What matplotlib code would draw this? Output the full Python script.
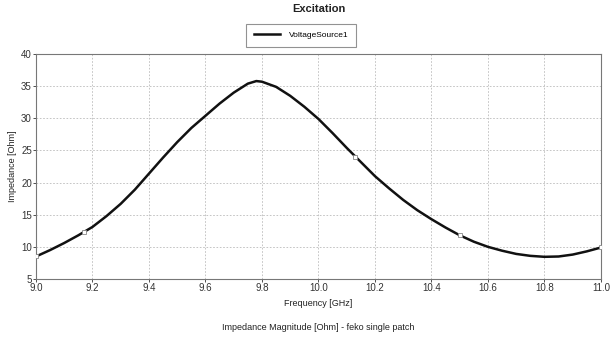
import numpy as np
import matplotlib.pyplot as plt

# Impedance magnitude (GHz, Ohm)
freq_ghz = [9.00, 9.05, 9.10, 9.15, 9.20, 9.25, 9.30, 9.35, 9.40, 9.45,
            9.50, 9.55, 9.60, 9.65, 9.70, 9.75, 9.78, 9.80, 9.85, 9.90,
            9.95, 10.00, 10.05, 10.10, 10.15, 10.20, 10.25, 10.30, 10.35, 10.40,
            10.45, 10.50, 10.55, 10.60, 10.65, 10.70, 10.75, 10.80, 10.85, 10.90,
            10.95, 11.00]
impedance = [8.5, 9.5, 10.6, 11.8, 13.1, 14.8, 16.7, 18.9, 21.4, 23.9,
             26.3, 28.5, 30.4, 32.3, 34.0, 35.4, 35.8, 35.7, 34.9, 33.5,
             31.8, 29.9, 27.7, 25.4, 23.2, 21.0, 19.1, 17.3, 15.7, 14.3,
             13.0, 11.8, 10.8, 10.0, 9.4, 8.9, 8.6, 8.45, 8.5, 8.8,
             9.3, 9.9]

marker_freq = [9.00, 9.17, 10.13, 10.50, 11.00]
marker_imp = [8.5, 12.3, 24.0, 11.8, 9.9]

xticks = [9.0, 9.2, 9.4, 9.6, 9.8, 10.0, 10.2, 10.4, 10.6, 10.8, 11.0]
yticks = [5, 10, 15, 20, 25, 30, 35, 40]

plt.rcParams['font.family'] = ['Liberation Sans Narrow', 'Liberation Sans', 'DejaVu Sans']

fig = plt.figure(figsize=(6.14, 3.38), dpi=100)
ax = fig.add_axes([0.0586, 0.1746, 0.9202, 0.6654])

ax.plot(freq_ghz, impedance, color='#111111', lw=1.8, label='VoltageSource1', zorder=3)
ax.plot(marker_freq, marker_imp, ls='none', marker='s', ms=2.5,
        mfc='white', mec='#888888', mew=0.6, zorder=4)

ax.set_xlim(9.0, 11.0)
ax.set_ylim(5, 40)
ax.set_xticks(xticks)
ax.set_xticklabels([f'{t:.1f}' for t in xticks])
ax.set_yticks(yticks)
ax.tick_params(labelsize=7, colors='#333333', length=2, width=0.6, pad=1)
ax.grid(True, color='#bbbbbb', ls=(0, (2, 2)), lw=0.6)
for s in ax.spines.values():
    s.set_color('#777777')
    s.set_linewidth(0.8)

ax.set_xlabel('Frequency [GHz]', fontsize=6.5, color='#222222', labelpad=4)
ax.set_ylabel('Impedance [Ohm]', fontsize=6.5, color='#222222', labelpad=3)

fig.text(0.519, 0.973, 'Excitation', ha='center', va='center',
         fontsize=8, fontweight='bold', color='#222222')
fig.text(0.519, 0.032, 'Impedance Magnitude [Ohm] - feko single patch',
         ha='center', va='center', fontsize=6.5, color='#222222')

leg = ax.legend(loc='center', bbox_to_anchor=(0.4904, 0.895), bbox_transform=fig.transFigure,
                fontsize=6, frameon=True, fancybox=False, handlelength=3.2,
                borderpad=0.9, handletextpad=1.0, borderaxespad=0)
leg.get_frame().set_edgecolor('#777777')
leg.get_frame().set_linewidth(0.8)

fig.savefig('out.png', dpi=100)
